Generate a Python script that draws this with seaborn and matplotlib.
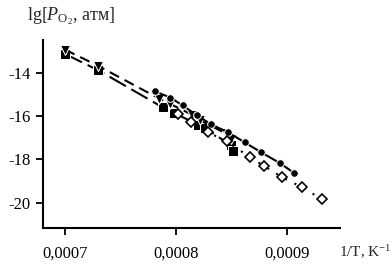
import matplotlib
matplotlib.use("Agg")
import matplotlib.pyplot as plt
import seaborn as sns
import pandas as pd
from matplotlib.ticker import FuncFormatter

# Data
sq_x = [0.0007, 0.00073, 0.000788, 0.000798, 0.00082, 0.000826, 0.00085, 0.000852]
sq_y = [-13.15, -13.9, -15.6, -15.85, -16.4, -16.55, -17.35, -17.6]
tri_x = [0.0007, 0.00073, 0.000785, 0.000795, 0.000815, 0.000822, 0.000845, 0.00085]
tri_y = [-12.95, -13.7, -15.2, -15.45, -15.95, -16.2, -16.8, -17.05]
circ_x = [0.000781, 0.000795, 0.000806, 0.000819, 0.000832, 0.000847, 0.000862, 0.000877, 0.000894, 0.000907]
circ_y = [-14.87, -15.15, -15.51, -15.97, -16.39, -16.75, -17.21, -17.67, -18.17, -18.63]
dia_x = [0.000802, 0.000814, 0.000829, 0.000846, 0.000867, 0.00088, 0.000896, 0.000914, 0.000932]
dia_y = [-15.93, -16.29, -16.75, -17.17, -17.9, -18.31, -18.82, -19.28, -19.83]

x_ticks = [0.0007, 0.0008, 0.0009]
y_ticks = [-14, -16, -18, -20]

sns.set_style("ticks")
plt.rcParams['font.family'] = ['Liberation Serif', 'DejaVu Serif']
plt.rcParams['mathtext.fontset'] = 'custom'
plt.rcParams['mathtext.rm'] = 'Liberation Serif'
plt.rcParams['mathtext.it'] = 'Liberation Serif:italic'

fig = plt.figure(figsize=(3.92, 2.66), dpi=100)
ax = fig.add_axes([0.1097, 0.143, 0.757, 0.707])

common = dict(ax=ax, estimator=None, sort=False, color='black', legend=False)
sns.lineplot(x=sq_x, y=sq_y, marker='s', markersize=6.5, linewidth=1.5, **common)
ax.lines[-1].set_dashes((9, 3))
sns.lineplot(x=tri_x, y=tri_y, marker='v', markersize=7, linewidth=1.5, **common)
ax.lines[-1].set_dashes((5, 3))
sns.lineplot(x=circ_x, y=circ_y, marker='o', markersize=5.5, linewidth=1.5, **common)
sns.lineplot(x=dia_x, y=dia_y, marker='D', markersize=5, linewidth=1.5,
             markerfacecolor='white', markeredgecolor='black', markeredgewidth=1.2,
             **common)
ax.lines[-1].set_linestyle((0, (1, 4)))

ax.set_xlim(0.000680, 0.000948)
ax.set_ylim(-21.15, -12.5)
ax.set_xticks(x_ticks)
ax.set_yticks(y_ticks)
ax.xaxis.set_major_formatter(FuncFormatter(lambda v, p: f"{v:.4f}".replace('.', ',')))
ax.yaxis.set_major_formatter(FuncFormatter(lambda v, p: f"{int(round(v))}"))
ax.tick_params(axis='both', direction='out', length=5, width=1.3, labelsize=12,
               colors='black')
ax.tick_params(axis='x', pad=8)
ax.tick_params(axis='y', pad=4)
for s in ['top', 'right']:
    ax.spines[s].set_visible(False)
for s in ['left', 'bottom']:
    ax.spines[s].set_linewidth(1.5)
    ax.spines[s].set_color('black')
ax.set_xlabel('')
ax.set_ylabel('')

fig.text(0.07, 0.94, r"lg[$P_{\mathrm{O}_2}$, атм]", fontsize=13, ha='left', va='center')
fig.text(0.866, 0.053, r"1/T, K$^{\mathrm{-1}}$", fontsize=11, ha='left', va='center')

fig.savefig("out.png", dpi=100)
